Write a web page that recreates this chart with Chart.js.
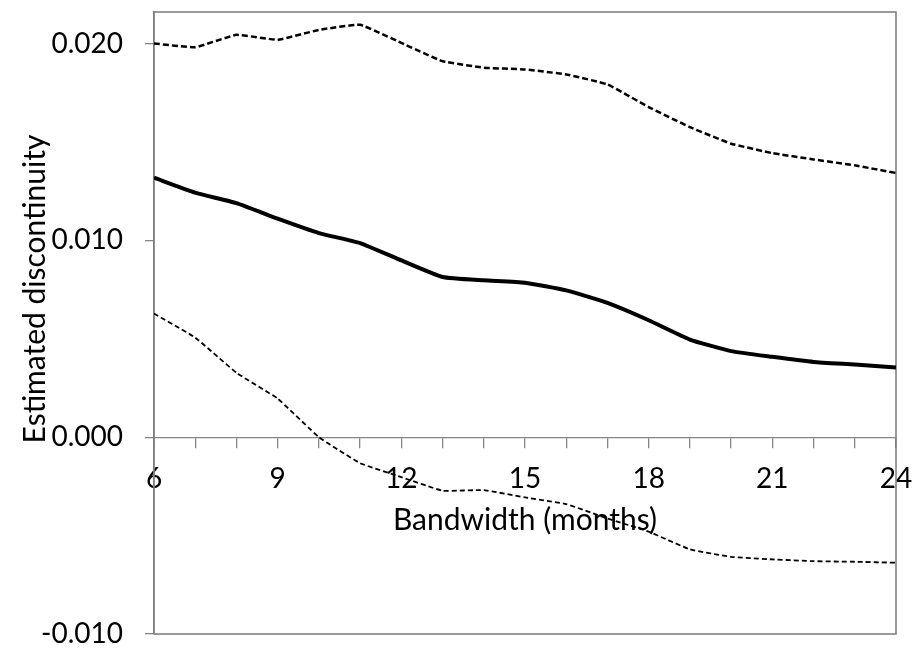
<!DOCTYPE html>
<html>
<head>
<meta charset="utf-8">
<script src="https://cdn.jsdelivr.net/npm/chart.js@4.4.0/dist/chart.umd.min.js"></script>
<style>
  html, body { margin: 0; padding: 0; background: #fff; }
</style>
</head>
<body>
<canvas id="rdChart" width="916" height="648"></canvas>
<script>
// bandwidth in months
var bandwidth = [6, 7, 8, 9, 10, 11, 12, 13, 14, 15, 16, 17, 18, 19, 20, 21, 22, 23, 24];

// point estimate (solid) and 95% band (dashed)
var estimate = [0.01318, 0.01242, 0.01189, 0.01110, 0.01037, 0.00986, 0.00898, 0.00814, 0.00797, 0.00785,
                0.00746, 0.00682, 0.00594, 0.00496, 0.00437, 0.00408, 0.00382, 0.00369, 0.00354];
var upperBound = [0.02000, 0.01981, 0.02044, 0.02019, 0.02069, 0.02095, 0.02003, 0.01910, 0.01877, 0.01868,
                  0.01843, 0.01792, 0.01677, 0.01575, 0.01491, 0.01443, 0.01411, 0.01381, 0.01342];
var lowerBound = [0.00628, 0.00506, 0.00327, 0.00196, 0.00000, -0.00132, -0.00203, -0.00272, -0.00269, -0.00306,
                  -0.00340, -0.00413, -0.00480, -0.00570, -0.00608, -0.00621, -0.00630, -0.00633, -0.00638];

var xLabelEvery = 3;
var xTitle = 'Bandwidth (months)';
var yTitle = 'Estimated discontinuity';

function pts(vals) {
  return bandwidth.map(function (b, i) { return { x: b, y: vals[i] }; });
}

// box around the plot area
var plotFrame = {
  id: 'plotFrame',
  beforeDatasetsDraw: function (chart) {
    var a = chart.chartArea, ctx = chart.ctx;
    ctx.save();
    ctx.strokeStyle = '#7a7a7a';
    ctx.lineWidth = 1.5;
    ctx.strokeRect(a.left, a.top, a.right - a.left, a.bottom - a.top);
    ctx.restore();
  }
};

// y axis title sits a bit above the middle, like the Excel original
var yAxisTitle = {
  id: 'yAxisTitle',
  afterDraw: function (chart) {
    var a = chart.chartArea, ctx = chart.ctx;
    ctx.save();
    ctx.translate(35, (a.top + a.bottom) / 2 - 34);
    ctx.rotate(-Math.PI / 2);
    ctx.font = '30px Lato';
    ctx.fillStyle = '#000';
    ctx.textAlign = 'center';
    ctx.textBaseline = 'middle';
    ctx.fillText(yTitle, 0, 0);
    ctx.restore();
  }
};

Chart.defaults.font.family = 'Lato';
Chart.defaults.font.size = 28;
Chart.defaults.color = '#000';

new Chart(document.getElementById('rdChart'), {
  type: 'line',
  data: {
    datasets: [
      {
        label: 'Estimate',
        data: pts(estimate),
        borderColor: '#000',
        borderWidth: 4,
        pointRadius: 0,
        tension: 0.15,
        fill: false
      },
      {
        label: 'Upper',
        data: pts(upperBound),
        borderColor: '#000',
        borderWidth: 2.5,
        borderDash: [6, 3],
        pointRadius: 0,
        tension: 0.1,
        fill: false
      },
      {
        label: 'Lower',
        data: pts(lowerBound),
        borderColor: '#000',
        borderWidth: 1.8,
        borderDash: [5, 3],
        pointRadius: 0,
        tension: 0.1,
        fill: false
      }
    ]
  },
  options: {
    responsive: false,
    animation: false,
    layout: { padding: { top: 12, right: 20, bottom: 14, left: 0 } },
    plugins: {
      legend: { display: false },
      tooltip: { enabled: false }
    },
    scales: {
      x: {
        type: 'linear',
        position: { y: 0 },
        min: 6,
        max: 24,
        grid: { drawOnChartArea: false, drawTicks: true, tickLength: 10, color: '#868686', lineWidth: 1.3 },
        border: { color: '#868686', width: 1.3 },
        ticks: {
          stepSize: 1,
          padding: 15,
          autoSkip: false,
          maxRotation: 0,
          callback: function (v) { return v % xLabelEvery === 0 ? String(v) : ''; }
        },
        title: { display: true, text: xTitle, font: { size: 30 }, padding: { top: -8, bottom: 0 } },
        afterFit: function (s) { s.paddingLeft = 0; s.paddingRight = 0; }
      },
      y: {
        min: -0.010,
        max: 0.0216,
        grid: { drawOnChartArea: false, drawTicks: true, tickLength: 9, color: '#868686', lineWidth: 1.3 },
        border: { color: '#868686', width: 1.3 },
        ticks: {
          stepSize: 0.010,
          includeBounds: false,
          padding: 22,
          callback: function (v) { return Math.abs(v) < 1e-9 ? '0.000' : v.toFixed(3); }
        },
        afterFit: function (s) { s.width = 154; s.paddingTop = 0; s.paddingBottom = 0; }
      }
    }
  },
  plugins: [plotFrame, yAxisTitle]
});
</script>
</body>
</html>
